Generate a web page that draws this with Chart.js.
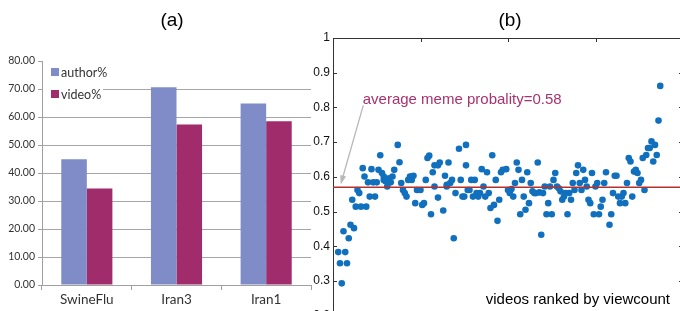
<!DOCTYPE html>
<html><head><meta charset="utf-8">
<script src="https://cdn.jsdelivr.net/npm/chart.js@4"></script>
<style>
html,body{margin:0;padding:0;background:#fff;overflow:hidden;width:680px;height:311px;}
#cA{position:absolute;left:0;top:0;}
#cB{position:absolute;left:300px;top:0;}
</style></head><body>
<canvas id="cA" width="320" height="311"></canvas>
<canvas id="cB" width="400" height="340"></canvas>
<script>
// ---- Panel (a) data ----
const categories = ['SwineFlu', 'Iran3', 'Iran1'];
const authorPct = [44.9, 70.6, 64.8];
const videoPct = [34.5, 57.3, 58.5];
const seriesNames = ['author%', 'video%'];

// ---- Panel (b) data ----
const videoRank = [3,4,5,6,7,8,9,10,11,12,13,14,15,16,17,18,19,20,21,22,23,24,25,26,27,28,29,29,30,31,32,33,34,35,37,38,39,40,41,42,43,44,45,45,46,47,48,50,51,52,53,54,55,56,57,58,58,60,60,61,63,64,65,65,66,67,68,69,70,72,73,74,75,76,76,77,78,79,80,81,82,83,84,85,86,87,88,89,90,91,92,93,94,95,96,97,99,100,101,102,103,104,105,106,107,108,109,110,111,112,113,114,115,116,117,118,119,120,121,122,123,124,125,126,127,128,129,130,131,132,133,134,135,136,137,138,139,140,141,142,143,144,145,146,147,148,149,150,151,152,153,154,155,156,158,159,160,161,162,163,164,165,166,167,168,169,170,171,172,173,174,175,176,177,178,179,180,181,182,183,184,185,186,187];
const memeProb = [0.383,0.351,0.293,0.443,0.383,0.351,0.423,0.462,0.534,0.452,0.514,0.562,0.553,0.514,0.625,0.601,0.514,0.584,0.543,0.622,0.584,0.543,0.584,0.620,0.662,0.611,0.601,0.591,0.587,0.572,0.596,0.584,0.601,0.620,0.692,0.642,0.582,0.562,0.553,0.543,0.591,0.601,0.601,0.591,0.603,0.524,0.562,0.562,0.519,0.524,0.591,0.654,0.661,0.492,0.613,0.633,0.572,0.633,0.540,0.641,0.503,0.603,0.572,0.577,0.641,0.582,0.591,0.423,0.553,0.681,0.591,0.543,0.543,0.692,0.633,0.562,0.562,0.591,0.543,0.591,0.553,0.543,0.553,0.622,0.572,0.543,0.613,0.553,0.510,0.662,0.519,0.591,0.473,0.534,0.613,0.620,0.622,0.562,0.553,0.565,0.543,0.582,0.641,0.620,0.492,0.591,0.543,0.505,0.613,0.524,0.582,0.558,0.553,0.553,0.641,0.555,0.433,0.553,0.572,0.492,0.524,0.572,0.492,0.591,0.611,0.572,0.567,0.558,0.534,0.543,0.553,0.492,0.553,0.534,0.582,0.562,0.611,0.633,0.582,0.562,0.620,0.591,0.572,0.534,0.524,0.611,0.492,0.572,0.582,0.492,0.514,0.534,0.582,0.613,0.462,0.492,0.553,0.603,0.603,0.543,0.524,0.543,0.553,0.524,0.582,0.654,0.644,0.543,0.615,0.620,0.611,0.582,0.591,0.654,0.562,0.663,0.683,0.683,0.702,0.644,0.692,0.663,0.762,0.862];
const averageProb = 0.57;
const averageLabel = 'average meme probality=0.58';
const xAxisLabel = 'videos ranked by viewcount';
const panelTitles = ['(a)', '(b)'];

// annotation anchor (data coordinates of panel b)
const annot = { textX: 17, textY: 0.821, fromX: 17.3, fromY: 0.806, toX: 4.4, toY: 0.578 };

const SANS = '"Liberation Sans", Arial, sans-serif';
const XL = 'Lato, "Open Sans", sans-serif';

const decorA = {
  id: 'decorA',
  afterDatasetsDraw(chart) {
    const {ctx, chartArea: ca} = chart;
    ctx.save();
    ctx.fillStyle = '#fff';
    ctx.fillRect(ca.left + 1, ca.top + 2, 60, 40);
    ctx.font = '12.5px ' + XL;
    ctx.textBaseline = 'middle';
    ctx.textAlign = 'left';
    chart.data.datasets.forEach((d, i) => {
      const y = ca.top + 11 + i * 22;
      ctx.fillStyle = d.backgroundColor;
      ctx.fillRect(ca.left + 9, y - 4, 8, 8);
      ctx.fillStyle = '#333';
      ctx.fillText(d.label, ca.left + 19, y + 0.5);
    });
    ctx.font = '19px ' + SANS;
    ctx.textAlign = 'center';
    ctx.fillStyle = '#000';
    ctx.fillText(panelTitles[0], 172, 20.5);
    ctx.restore();
  }
};

new Chart(document.getElementById('cA'), {
  type: 'bar',
  data: {
    labels: categories,
    datasets: [
      {label: seriesNames[0], data: authorPct, backgroundColor: '#7f8cc8'},
      {label: seriesNames[1], data: videoPct, backgroundColor: '#a12c6c'}
    ]
  },
  options: {
    responsive: false, animation: false, devicePixelRatio: 1,
    layout: {padding: {left: 0, right: 9, top: 61, bottom: 0}},
    datasets: {bar: {categoryPercentage: 0.57, barPercentage: 1}},
    plugins: {legend: {display: false}, tooltip: {enabled: false}, title: {display: false}},
    scales: {
      x: {
        grid: {offset: true, drawOnChartArea: false, drawTicks: true, tickLength: 5, color: '#a0a0a0'},
        border: {color: '#a0a0a0'},
        ticks: {font: {family: XL, size: 13.5}, color: '#333', padding: 2},
        afterFit(s) { s.height = 26; }
      },
      y: {
        min: 0, max: 80,
        ticks: {stepSize: 10, callback: v => Number(v).toFixed(2), font: {family: XL, size: 10.5}, color: '#333', padding: 3},
        grid: {color: c => (c.tick && c.tick.value === 80) ? 'rgba(0,0,0,0)' : '#a6a6a6', tickColor: '#a0a0a0', tickLength: 4, drawTicks: true},
        border: {color: '#a0a0a0'},
        afterFit(s) { s.width = 42; }
      }
    }
  },
  plugins: [decorA]
});

const decorB = {
  id: 'decorB',
  afterDraw(chart) {
    const {ctx, chartArea: ca, scales: {x, y}} = chart;
    ctx.save();
    ctx.strokeStyle = '#333';
    ctx.lineWidth = 1;
    ctx.beginPath();
    y.ticks.forEach(t => {
      const py = Math.round(y.getPixelForValue(t.value)) + 0.5;
      ctx.moveTo(ca.left, py); ctx.lineTo(ca.left + 4, py);
      ctx.moveTo(ca.right - 4, py); ctx.lineTo(ca.right, py);
    });
    x.ticks.forEach(t => {
      const px = Math.round(x.getPixelForValue(t.value)) + 0.5;
      ctx.moveTo(px, ca.top); ctx.lineTo(px, ca.top + 4);
      ctx.moveTo(px, ca.bottom); ctx.lineTo(px, ca.bottom - 4);
    });
    ctx.moveTo(ca.right + 0.5, ca.top); ctx.lineTo(ca.right + 0.5, ca.bottom);
    ctx.moveTo(ca.left, ca.bottom + 0.5); ctx.lineTo(ca.right, ca.bottom + 0.5);
    ctx.stroke();

    // arrow
    const fx = x.getPixelForValue(annot.fromX), fy = y.getPixelForValue(annot.fromY);
    const tx = x.getPixelForValue(annot.toX), ty = y.getPixelForValue(annot.toY);
    ctx.strokeStyle = '#b8b8b8';
    ctx.fillStyle = '#b8b8b8';
    ctx.lineWidth = 1.3;
    const ang = Math.atan2(ty - fy, tx - fx);
    ctx.beginPath();
    ctx.moveTo(fx, fy);
    ctx.lineTo(tx - 7 * Math.cos(ang), ty - 7 * Math.sin(ang));
    ctx.stroke();
    ctx.beginPath();
    ctx.moveTo(tx, ty);
    ctx.lineTo(tx - 9 * Math.cos(ang) + 3 * Math.sin(ang), ty - 9 * Math.sin(ang) - 3 * Math.cos(ang));
    ctx.lineTo(tx - 9 * Math.cos(ang) - 3 * Math.sin(ang), ty - 9 * Math.sin(ang) + 3 * Math.cos(ang));
    ctx.closePath();
    ctx.fill();

    // annotation text
    ctx.font = '15px ' + SANS;
    ctx.fillStyle = '#a8326f';
    ctx.textAlign = 'left';
    ctx.textBaseline = 'middle';
    ctx.fillText(averageLabel, x.getPixelForValue(annot.textX), y.getPixelForValue(annot.textY));

    // x label inside plot
    ctx.fillStyle = '#000';
    ctx.textAlign = 'right';
    ctx.fillText(xAxisLabel, ca.right - 13, ca.bottom - 16);

    // title
    ctx.font = '19px ' + SANS;
    ctx.textAlign = 'center';
    ctx.fillText(panelTitles[1], (ca.left + ca.right) / 2 + 2, 20.5);
    ctx.restore();
  }
};

new Chart(document.getElementById('cB'), {
  type: 'scatter',
  data: {
    datasets: [
      {type: 'line', data: [{x: 0, y: averageProb}, {x: 200, y: averageProb}], borderColor: '#b8302c', borderWidth: 1.5, pointRadius: 0, order: 0},
      {data: videoRank.map((r, i) => ({x: r, y: memeProb[i]})), backgroundColor: '#1070be', borderWidth: 0, pointRadius: 3.3, order: 1}
    ]
  },
  options: {
    responsive: false, animation: false, devicePixelRatio: 1,
    layout: {padding: {left: 0, right: 17, top: 38, bottom: 24.4}},
    plugins: {legend: {display: false}, tooltip: {enabled: false}},
    scales: {
      x: {
        type: 'linear', position: 'top', min: 0, max: 200,
        ticks: {display: false, stepSize: 50},
        grid: {drawOnChartArea: false, drawTicks: false},
        border: {color: '#333'},
        afterFit(s) { s.height = 0; }
      },
      y: {
        min: 0.2, max: 1,
        ticks: {stepSize: 0.1, callback: v => (Math.abs(v - 1) < 1e-9 ? '1' : Number(v).toFixed(1)), font: {family: SANS, size: 12}, color: '#111', padding: 3},
        grid: {drawOnChartArea: false, drawTicks: false},
        border: {color: '#333'},
        afterFit(s) { s.width = 33; }
      }
    }
  },
  plugins: [decorB]
});
</script>
</body></html>
